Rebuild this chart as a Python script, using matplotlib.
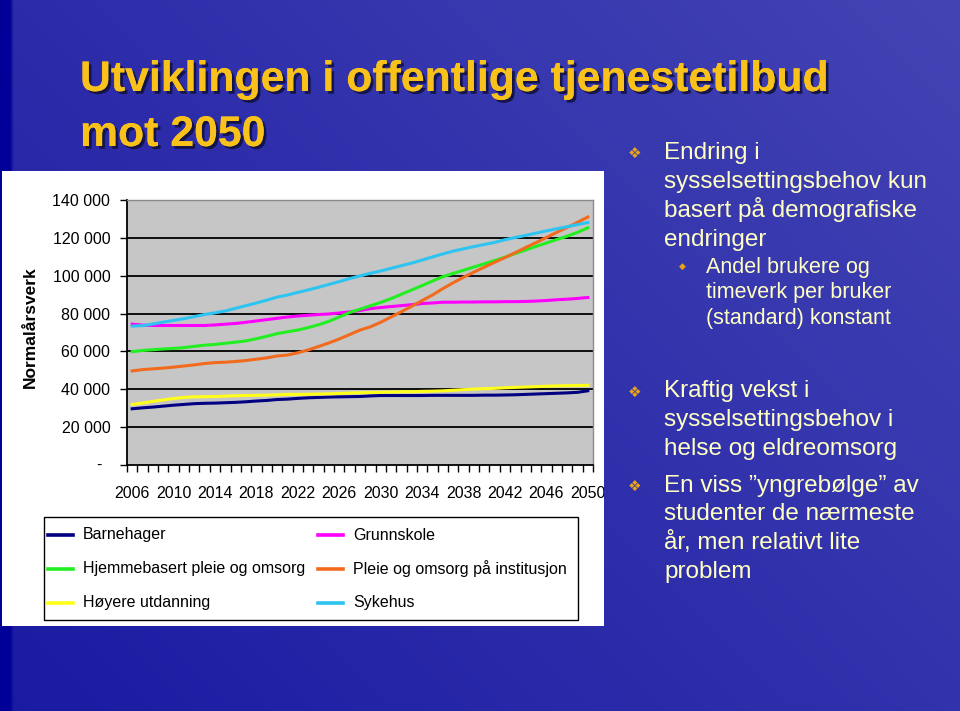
import numpy as np
import matplotlib
matplotlib.use('Agg')
import matplotlib.pyplot as plt
from matplotlib.patches import Rectangle
from matplotlib.lines import Line2D
import matplotlib.patheffects as pe

plt.rcParams['font.family'] = ['Liberation Sans', 'DejaVu Sans']

# Data (normalårsverk per year)
years = list(range(2006, 2051))

barnehager = [29700, 30200, 30600, 31100, 31600, 32000, 32400, 32600, 32700, 32900,
              33100, 33400, 33800, 34100, 34600, 34800, 35200, 35500, 35700, 35900,
              36000, 36100, 36200, 36500, 36700, 36700, 36700, 36700, 36700, 36800,
              36800, 36800, 36800, 36800, 36900, 36900, 37000, 37100, 37300, 37500,
              37700, 37900, 38100, 38400, 39200]

grunnskole = [74400, 73900, 73700, 73700, 73700, 73700, 73700, 73700, 74000, 74400,
              74800, 75400, 76100, 76800, 77500, 78200, 78700, 79100, 79500, 79800,
              80300, 80900, 81600, 82600, 83200, 83700, 84200, 84700, 85300, 85600,
              86000, 86000, 86100, 86100, 86200, 86200, 86300, 86300, 86400, 86600,
              86900, 87300, 87600, 88000, 88500]

hjemmebasert = [59900, 60500, 60900, 61300, 61600, 62000, 62700, 63300, 63700, 64300,
                64900, 65600, 66700, 68000, 69400, 70400, 71300, 72600, 74100, 75900,
                78200, 80600, 82300, 84100, 85900, 87900, 90200, 92500, 94800, 97200,
                99500, 101200, 102900, 104600, 106300, 108000, 109800, 111700, 113600, 115500,
                117300, 119100, 120900, 122900, 125300]

pleie_inst = [49700, 50400, 50800, 51200, 51700, 52300, 52900, 53600, 54100, 54300,
              54700, 55200, 55900, 56600, 57600, 58100, 59300, 60800, 62600, 64500,
              66600, 68900, 71300, 73000, 75400, 78200, 81000, 83900, 86900, 89800,
              93200, 96300, 99200, 101900, 104500, 107100, 109600, 112200, 114900, 117500,
              120200, 122900, 125500, 128200, 131000]

hoyere_utd = [32000, 32700, 33600, 34400, 35100, 35700, 36000, 36100, 36200, 36400,
              36600, 36700, 36800, 36900, 37100, 37300, 37300, 37400, 37500, 37600,
              37800, 38000, 38200, 38300, 38400, 38500, 38700, 38700, 38900, 39000,
              39200, 39500, 39800, 40100, 40300, 40500, 40800, 41000, 41200, 41400,
              41600, 41800, 41900, 42000, 42100]

sykehus = [73400, 73600, 74500, 75500, 76400, 77300, 78400, 79500, 80400, 81400,
           82800, 84200, 85600, 87100, 88700, 89800, 91200, 92500, 93900, 95400,
           96900, 98500, 99900, 101300, 102500, 103900, 105300, 106700, 108300, 109900,
           111500, 113000, 114200, 115400, 116500, 117600, 119000, 120200, 121300, 122500,
           123700, 124800, 125900, 127000, 128100]

series = [
    ('Barnehager', barnehager, '#000080'),
    ('Grunnskole', grunnskole, '#FF00FF'),
    ('Hjemmebasert pleie og omsorg', hjemmebasert, '#22EE22'),
    ('Pleie og omsorg på institusjon', pleie_inst, '#F26B1D'),
    ('Høyere utdanning', hoyere_utd, '#FFFF1A'),
    ('Sykehus', sykehus, '#2EC4F2'),
]

yticks = [0, 20000, 40000, 60000, 80000, 100000, 120000, 140000]

W, H = 960, 711


def fx(px):
    return px / W


def fy(py):
    return 1 - py / H


fig = plt.figure(figsize=(9.6, 7.11), dpi=100)

# Slide background: blue gradient
bg = fig.add_axes([0, 0, 1, 1], zorder=-3)
xx, yy = np.meshgrid(np.linspace(0, 1, 240), np.linspace(0, 1, 180))
t = np.clip(0.55 * xx + 0.4 * (1 - yy) + 0.05, 0, 1)
c0 = np.array([0x18, 0x18, 0xA2]) / 255
c1 = np.array([0x44, 0x44, 0xB4]) / 255
img = c0 + (c1 - c0) * t[..., None]
img[:, :3] = np.array([0x00, 0x00, 0x98]) / 255
bg.imshow(img, aspect='auto', extent=[0, 1, 0, 1], origin='upper', interpolation='bilinear')
bg.axis('off')

# White panel behind the chart
panel = Rectangle((fx(2), fy(626)), fx(602), 455 / H, transform=fig.transFigure,
                  facecolor='white', edgecolor='none', zorder=-2)
fig.patches.append(panel)

# Title
title_fx = [pe.withSimplePatchShadow(offset=(2, -2), shadow_rgbFace='#10103a', alpha=0.85), pe.Normal()]
fig.text(fx(80), fy(91), 'Utviklingen i offentlige tjenestetilbud', fontsize=30.8, fontweight='bold',
         color='#F8C21A', ha='left', va='baseline', path_effects=title_fx)
fig.text(fx(80), fy(146), 'mot 2050', fontsize=30.8, fontweight='bold',
         color='#F8C21A', ha='left', va='baseline', path_effects=title_fx)

# Chart axes
ax = fig.add_axes([fx(127), fy(465), fx(593 - 127), (465 - 200) / H])
ax.set_facecolor('#C6C6C6')
x = np.arange(len(years))
for v in yticks[1:-1]:
    ax.axhline(v, color='black', lw=1.3, zorder=1)

for name, vals, col in series:
    ax.plot(x, vals, color=col, lw=2.2, zorder=2)

ax.set_xlim(-0.5, len(years) - 0.5)
ax.set_ylim(0, 140000)

ax.set_xticks(x[::4])
ax.set_xticklabels([str(y) for y in years[::4]], fontsize=11.5)
ax.set_xticks(np.arange(-0.5, len(years), 1), minor=True)
ax.tick_params(axis='x', which='major', length=0, pad=15)
ax.tick_params(axis='x', which='minor', length=5, width=1, direction='out', color='black')

ax.set_yticks(yticks)
ax.set_yticklabels(['' if v == 0 else f'{v:,}'.replace(',', ' ') for v in yticks], fontsize=11.5)
ax.tick_params(axis='y', length=5, width=1, direction='out', pad=7)
ax.text(-0.055, 0, '-', transform=ax.transAxes, ha='right', va='center', fontsize=11.5)

for s in ['left', 'bottom']:
    ax.spines[s].set_color('black')
    ax.spines[s].set_linewidth(1.3)
for s in ['top', 'right']:
    ax.spines[s].set_color('#8a8a8a')
    ax.spines[s].set_linewidth(1.0)

# clip tick labels to the white panel (the 2050 label is cut in the original)
for tk in ax.xaxis.get_major_ticks():
    tk.label1.set_clip_path(panel)

fig.text(fx(30), fy(327), 'Normalårsverk', rotation=90, fontsize=12.5, fontweight='bold',
         ha='center', va='center')

# Legend box drawn by hand: two columns, three rows
fig.patches.append(Rectangle((fx(44), fy(620)), fx(534), 103 / H, transform=fig.transFigure,
                             facecolor='white', edgecolor='black', lw=1.0, zorder=1))
row_y = [535, 569, 603]
col_x = [48, 318]
for k, (name, vals, col) in enumerate(series):
    cx = col_x[k % 2]
    ry = row_y[k // 2]
    fig.lines.append(Line2D([fx(cx), fx(cx + 25)], [fy(ry), fy(ry)], transform=fig.transFigure,
                            color=col, lw=2.6, zorder=2))
    fig.text(fx(cx + 35), fy(ry), name, fontsize=11.5, ha='left', va='center', zorder=3)

# Right-hand bullet text
txt_col = '#FFFFC4'
bul_col = '#E8A317'
main_lines = [
    (159, 'Endring i'), (188, 'sysselsettingsbehov kun'), (217, 'basert på demografiske'),
    (246, 'endringer'),
    (397, 'Kraftig vekst i'), (426, 'sysselsettingsbehov i'), (455, 'helse og eldreomsorg'),
    (492, 'En viss ”yngrebølge” av'), (520, 'studenter de nærmeste'),
    (549, 'år, men relativt lite'), (578, 'problem'),
]
for py, s in main_lines:
    fig.text(fx(664), fy(py), s, fontsize=17.5, color=txt_col, ha='left', va='baseline')

sub_lines = [(273, 'Andel brukere og'), (298, 'timeverk per bruker'), (324, '(standard) konstant')]
for py, s in sub_lines:
    fig.text(fx(706), fy(py), s, fontsize=15.5, color=txt_col, ha='left', va='baseline')

for py in [153, 392, 486]:
    fig.text(fx(635), fy(py), '\u2756', fontsize=11, color=bul_col, ha='center', va='center',
             family='DejaVu Sans')
fig.text(fx(682), fy(266), '\u25C6', fontsize=6.5, color=bul_col, ha='center', va='center',
         family='DejaVu Sans')

fig.savefig('out.png', dpi=100)
